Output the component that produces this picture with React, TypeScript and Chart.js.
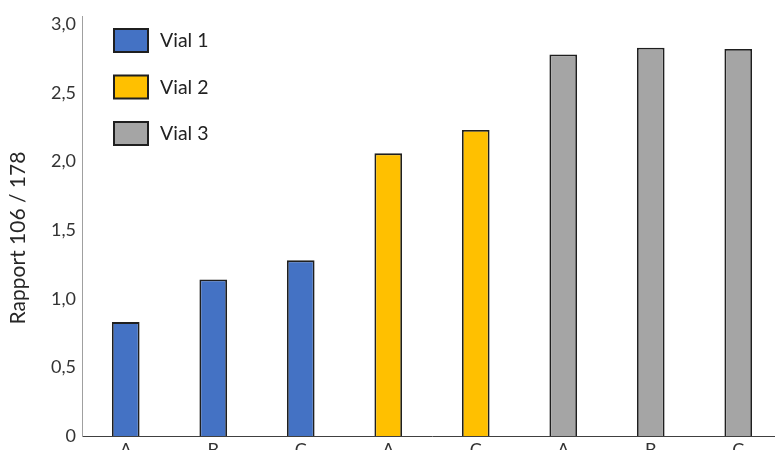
import React, { useEffect, useRef } from "react";
import { Chart, registerables } from "chart.js";

Chart.register(...registerables);

const categories = ["A", "B", "C", "A", "C", "A", "B", "C"];
const vial1 = [0.83, 1.14, 1.28, null, null, null, null, null];
const vial2 = [null, null, null, 2.06, 2.23, null, null, null];
const vial3 = [null, null, null, null, null, 2.78, 2.83, 2.82];
const seriesNames = ["Vial 1", "Vial 2", "Vial 3"];
const seriesColors = ["#4472C4", "#FFC000", "#A5A5A5"];
const yTicks = [0, 0.5, 1.0, 1.5, 2.0, 2.5, 3.0];
const yTitle = "Rapport 106 / 178";

const FONT = "Lato, 'Open Sans', sans-serif";

const legendPlugin = {
  id: "insideLegend",
  afterDraw(chart: any) {
    const ctx = chart.ctx;
    const ds = chart.data.datasets;
    ctx.save();
    ds.forEach((d: any, i: number) => {
      const x = 114;
      const y = 29 + i * 46.5;
      ctx.fillStyle = d.backgroundColor;
      ctx.fillRect(x, y, 34, 23);
      ctx.lineWidth = 2;
      ctx.strokeStyle = "#1f1f1f";
      ctx.strokeRect(x, y, 34, 23);
      ctx.fillStyle = "#222";
      ctx.font = `19.5px ${FONT}`;
      ctx.textBaseline = "middle";
      ctx.textAlign = "left";
      ctx.fillText(d.label, 160, y + 12);
    });
    // y axis title
    ctx.translate(18.5, 238);
    ctx.rotate(-Math.PI / 2);
    ctx.fillStyle = "#262626";
    ctx.font = `21px ${FONT}`;
    ctx.textAlign = "center";
    ctx.textBaseline = "middle";
    ctx.fillText(yTitle, 0, 0);
    ctx.restore();
  },
};

export default function App() {
  const ref = useRef<HTMLCanvasElement | null>(null);
  useEffect(() => {
    if (!ref.current) return;
    const dataSets = [vial1, vial2, vial3].map((vals, i) => ({
      label: seriesNames[i],
      data: vals,
      backgroundColor: seriesColors[i],
      borderColor: "#1f1f1f",
      borderWidth: 1.8,
      barPercentage: 0.316,
      categoryPercentage: 1,
      grouped: false,
    }));
    const chart = new Chart(ref.current, {
      type: "bar",
      data: { labels: categories, datasets: dataSets as any },
      plugins: [legendPlugin],
      options: {
        animation: false,
        responsive: false,
        devicePixelRatio: 1,
        layout: { padding: { top: 12, left: 0, right: 0, bottom: 0 } },
        plugins: { legend: { display: false }, tooltip: { enabled: false } },
        scales: {
          x: {
            grid: { display: false, drawTicks: false },
            border: { display: true, color: "#404040", width: 1 },
            ticks: { color: "#333", font: { family: FONT, size: 18 }, padding: 3 },
            afterFit: (s: any) => { s.height = 26; },
          },
          y: {
            min: 0,
            max: 3.055,
            grid: { display: false, drawTicks: false },
            border: { display: true, color: "#a0a0a0", width: 1 },
            afterBuildTicks: (s: any) => {
              s.ticks = yTicks.map((v) => ({ value: v }));
            },
            ticks: {
              color: "#333",
              font: { family: FONT, size: 18 },
              padding: 6,
              callback: (v: any) => (Number(v) === 0 ? "0" : Number(v).toFixed(1).replace(".", ",")),
            },
            title: { display: false },
            afterFit: (s: any) => { s.width = 82; },
          },
        },
      },
    });
    return () => chart.destroy();
  }, []);
  return (
    <div style={{ position: "fixed", left: 0, top: 0, width: 775, height: 450, overflow: "hidden", background: "#fff" }}>
      <canvas ref={ref} width={782} height={462} style={{ display: "block" }} />
    </div>
  );
}
